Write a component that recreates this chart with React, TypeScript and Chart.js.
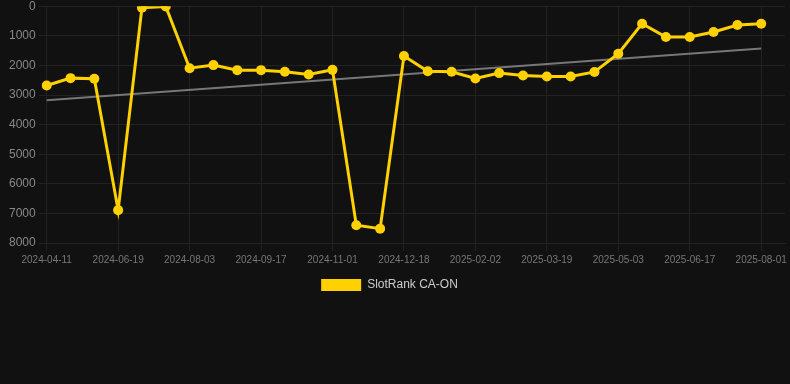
import React, { useEffect, useRef } from "react";
import { Chart, registerables } from "chart.js";

Chart.register(...registerables);

const dateLabels: string[] = [
  "2024-04-11", "2024-05-04", "2024-05-27", "2024-06-19", "2024-07-04", "2024-07-19",
  "2024-08-03", "2024-08-18", "2024-09-02", "2024-09-17", "2024-10-02", "2024-10-17",
  "2024-11-01", "2024-11-17", "2024-12-03", "2024-12-18", "2025-01-02", "2025-01-18",
  "2025-02-02", "2025-02-17", "2025-03-04", "2025-03-19", "2025-04-03", "2025-04-18",
  "2025-05-03", "2025-05-18", "2025-06-02", "2025-06-17", "2025-07-02", "2025-07-17",
  "2025-08-01", "2025-08-16",
];

const rankValues: number[] = [
  2680, 2430, 2450, 6890, 50, 10, 2095, 1990, 2160, 2160, 2215, 2305, 2150,
  7400, 7515, 1685, 2195, 2215, 2440, 2260, 2340, 2375, 2375, 2220, 1605,
  590, 1040, 1040, 870, 635, 590,
];

const trendStart = 3175;
const trendEnd = 1425;
const trendValues: (number | null)[] = rankValues.map((_, i) =>
  i === 0 ? trendStart : i === rankValues.length - 1 ? trendEnd : null
);

const shownTickEvery = 3;

const legendShift = {
  id: "legendShift",
  afterLayout(chart: any) {
    const lg = chart.legend;
    if (lg) {
      lg.left -= 6;
      lg.right -= 6;
    }
  },
};

export default function App() {
  const ref = useRef<HTMLCanvasElement | null>(null);

  useEffect(() => {
    document.body.style.margin = "0";
    document.body.style.background = "#111111";
    const canvas = ref.current;
    if (!canvas) return;
    const chart = new Chart(canvas, {
      type: "line",
      data: {
        labels: dateLabels,
        datasets: [
          {
            label: "SlotRank CA-ON",
            data: rankValues,
            borderColor: "#FFD100",
            backgroundColor: "#FFD100",
            borderWidth: 3,
            pointRadius: 5,
            pointHoverRadius: 5,
            pointBackgroundColor: "#FFD100",
            pointBorderWidth: 0,
            tension: 0,
          },
          {
            label: "trend",
            data: trendValues,
            borderColor: "#777777",
            backgroundColor: "#777777",
            borderWidth: 2,
            pointRadius: 0,
            spanGaps: true,
            tension: 0,
          },
        ],
      },
      plugins: [legendShift],
      options: {
        animation: false,
        responsive: false,
        maintainAspectRatio: false,
        layout: { padding: { left: 6, right: 5, top: 0, bottom: 0 } },
        plugins: {
          legend: {
            position: "bottom",
            labels: {
              color: "#cccccc",
              font: { size: 12, family: "Helvetica, Arial, sans-serif" },
              boxWidth: 40,
              boxHeight: 12,
              generateLabels: (c: any) =>
                Chart.defaults.plugins.legend.labels
                  .generateLabels(c)
                  .filter((it: any) => it.text !== "trend")
                  .map((it: any) => ({ ...it, lineWidth: 0 })),
            },
          },
          tooltip: { enabled: false },
        },
        scales: {
          x: {
            grid: { color: "#222222", tickColor: "#222222" },
            border: { color: "#222222" },
            ticks: {
              color: "#777777",
              font: { size: 10, family: "Helvetica, Arial, sans-serif" },
              autoSkip: false,
              maxRotation: 0,
              minRotation: 0,
              callback: (_v: any, index: number) =>
                index % shownTickEvery === 0 && index < rankValues.length
                  ? dateLabels[index]
                  : null,
            },
          },
          y: {
            reverse: true,
            min: 0,
            max: 8000,
            grid: { color: "#222222", tickColor: "#222222" },
            border: { color: "#222222" },
            ticks: {
              stepSize: 1000,
              color: "#888888",
              font: { size: 12, family: "Helvetica, Arial, sans-serif" },
              callback: (v: any) => String(v),
            },
          },
        },
      },
    });
    return () => chart.destroy();
  }, []);

  return (
    <div style={{ width: 790, height: 384, background: "#111111", overflow: "hidden" }}>
      <canvas
        ref={ref}
        width={790}
        height={305}
        style={{ display: "block", marginTop: -4 }}
      />
    </div>
  );
}
